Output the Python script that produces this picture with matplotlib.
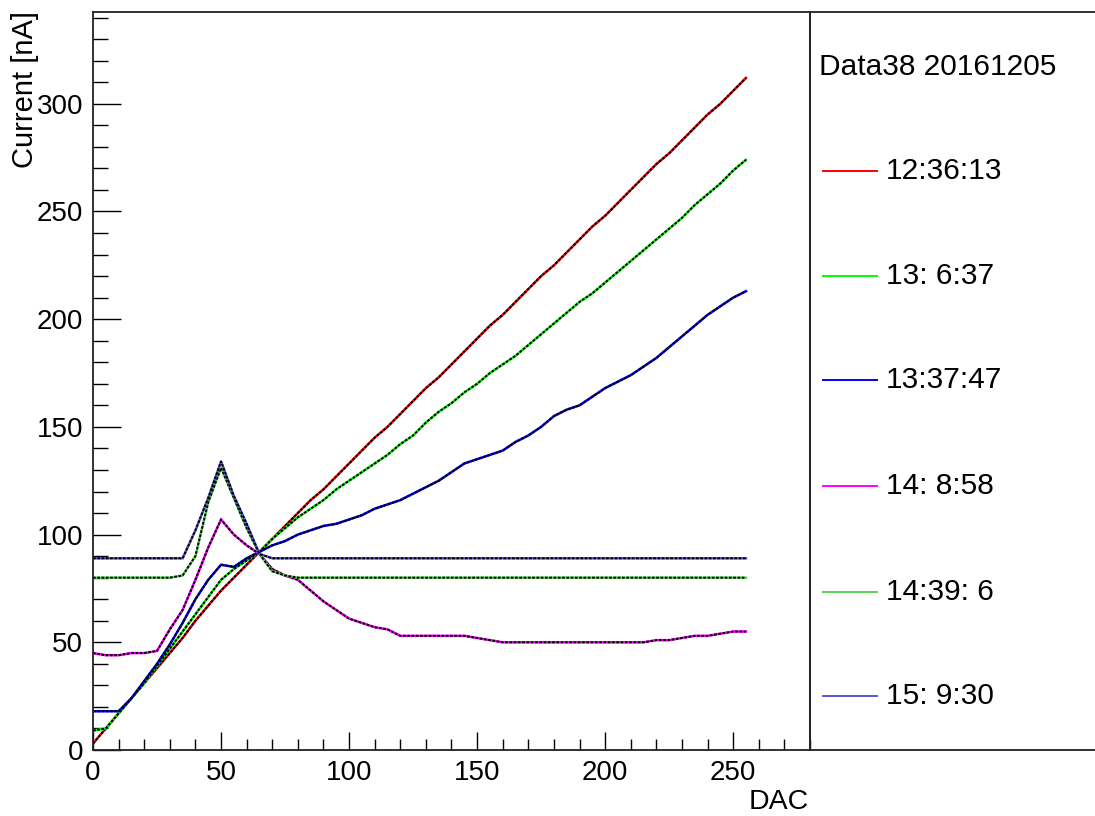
import matplotlib
matplotlib.use("Agg")
import matplotlib.pyplot as plt
from matplotlib.ticker import MultipleLocator

plt.rcParams['font.family'] = ['Liberation Sans', 'DejaVu Sans']

# ---------------- data ----------------
dac = list(range(0, 256, 5))

cur_123613 = [3, 10, 17, 24, 31, 38, 45, 52, 60, 67, 74, 80, 86, 92, 98, 104, 110, 116, 121, 127,
              133, 139, 145, 150, 156, 162, 168, 173, 179, 185, 191, 197, 202, 208, 214, 220, 225,
              231, 237, 243, 248, 254, 260, 266, 272, 277, 283, 289, 295, 300, 306, 312]
cur_130637 = [9, 10, 17, 24, 31, 39, 47, 55, 63, 71, 79, 84, 88, 92, 98, 103, 108, 112, 116, 121,
              125, 129, 133, 137, 142, 146, 152, 157, 161, 166, 170, 175, 179, 183, 188, 193, 198,
              203, 208, 212, 217, 222, 227, 232, 237, 242, 247, 253, 258, 263, 269, 274]
cur_133747 = [18, 18, 18, 24, 32, 40, 49, 59, 70, 79, 86, 85, 89, 92, 95, 97, 100, 102, 104, 105,
              107, 109, 112, 114, 116, 119, 122, 125, 129, 133, 135, 137, 139, 143, 146, 150, 155,
              158, 160, 164, 168, 171, 174, 178, 182, 187, 192, 197, 202, 206, 210, 213]
cur_140858 = [45, 44, 44, 45, 45, 46, 56, 65, 79, 94, 107, 100, 95, 91, 84, 81, 79, 74, 69, 65,
              61, 59, 57, 56, 53, 53, 53, 53, 53, 53, 52, 51, 50, 50, 50, 50, 50, 50, 50, 50,
              50, 50, 50, 50, 51, 51, 52, 53, 53, 54, 55, 55]
cur_143906 = [80] * 7 + [81, 90, 115, 131, 117, 103, 91, 83, 81] + [80] * 36
cur_150930 = [89] * 8 + [102, 117, 134, 118, 105, 91] + [89] * 38

series_labels = ["12:36:13", "13: 6:37", "13:37:47", "14: 8:58", "14:39: 6", "15: 9:30"]
series_values = [cur_123613, cur_130637, cur_133747, cur_140858, cur_143906, cur_150930]
series_colors = ["#ff0000", "#00ff00", "#0000ff", "#ff00ff", "#59d454", "#5954d8"]

legend_title = "Data38 20161205"

# ---------------- figure ----------------
W, H = 1095, 816
fig = plt.figure(figsize=(W / 100, H / 100), dpi=100)
ax = fig.add_axes([93 / W, (H - 750) / H, (810 - 93) / W, (750 - 12) / H])

for vals, col in zip(series_values, series_colors):
    ax.plot(dac, vals, color=col, lw=1.8, solid_joinstyle='miter')
    ax.plot(dac, vals, color='black', lw=1.4, linestyle=(0, (1.4, 0.8)))

ax.set_xlim(0, 280)
ax.set_ylim(0, 342.6)
ax.xaxis.set_major_locator(MultipleLocator(50))
ax.xaxis.set_minor_locator(MultipleLocator(10))
ax.yaxis.set_major_locator(MultipleLocator(50))
ax.yaxis.set_minor_locator(MultipleLocator(10))
ax.tick_params(axis='x', which='major', direction='in', length=13, width=1.0,
               labelsize=20, pad=7, top=False)
ax.tick_params(axis='x', which='minor', direction='in', length=7.7, width=1.0, top=False)
ax.tick_params(axis='y', which='major', direction='in', length=20.5, width=1.0,
               labelsize=20, pad=7, right=False)
ax.tick_params(axis='y', which='minor', direction='in', length=10.8, width=1.0, right=False)
for s in ax.spines.values():
    s.set_linewidth(1.3)
    s.set_color('#222222')

fig.text(11 / W, 1 - 11 / H, "Current [nA]", rotation=90, ha='left', va='top', fontsize=21)
fig.text(809 / W, 1 - 815 / H, "DAC", ha='right', va='bottom', fontsize=20.5)

# ---------------- legend box ----------------
lg = fig.add_axes([810 / W, (H - 750) / H, 400 / W, (750 - 12) / H])
lg.set_xlim(810, 1210)
lg.set_ylim(750, 12)
lg.set_xticks([])
lg.set_yticks([])
lg.patch.set_alpha(0)
for s in lg.spines.values():
    s.set_linewidth(1.3)
    s.set_color('#222222')

lg.text(819, 67, legend_title, ha='left', va='center', fontsize=21.5)
entry_y = [171, 276, 380, 486, 592, 696]
for yy, lab, col in zip(entry_y, series_labels, series_colors):
    lg.plot([823, 877], [yy, yy], color=col, lw=1.4)
    lg.text(886, yy, lab, ha='left', va='center', fontsize=21.5)

fig.savefig("out.png", dpi=100)
